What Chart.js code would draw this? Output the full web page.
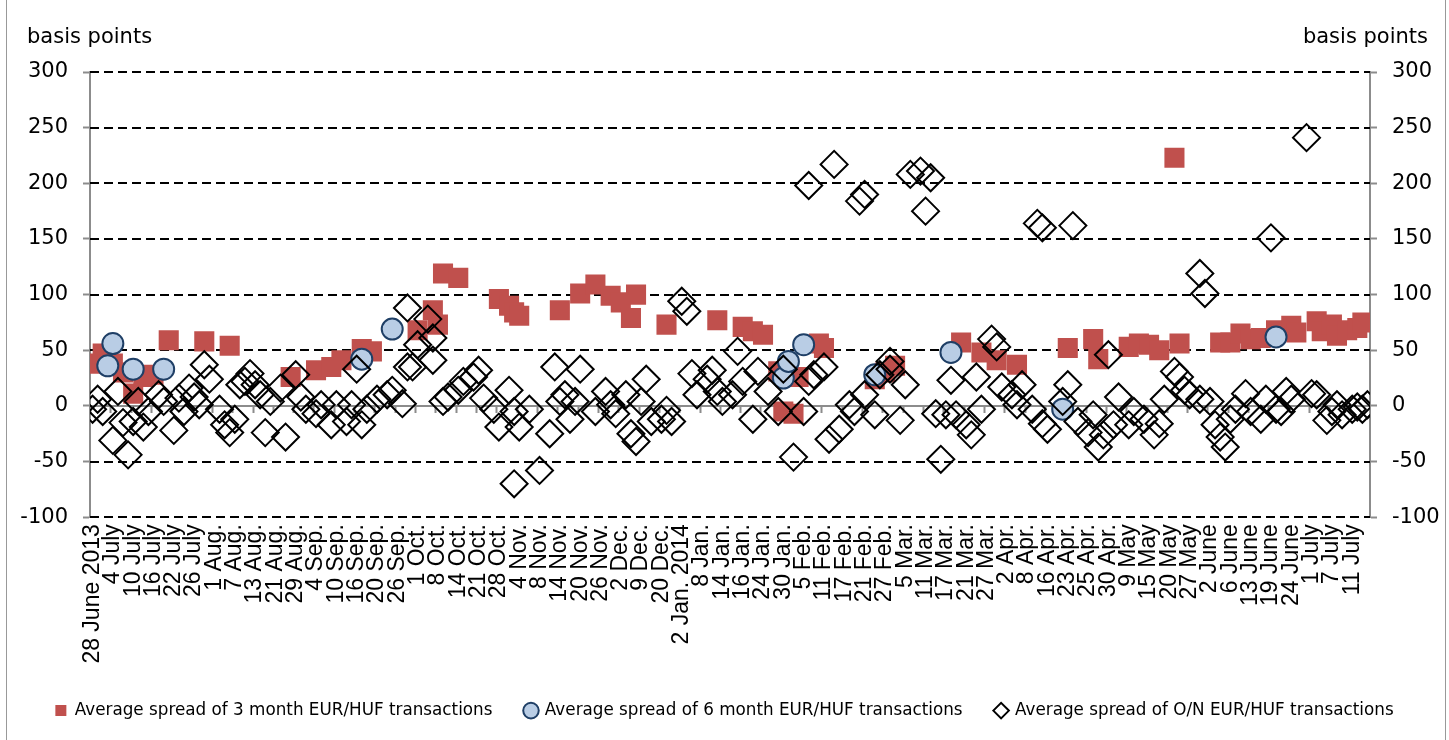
<!DOCTYPE html>
<html lang="en">
<head>
  <meta charset="UTF-8" />
  <title>EUR/HUF transaction spreads</title>
  <script src="https://cdn.jsdelivr.net/npm/chart.js"></script>
  <style>
    body { margin: 0; background: #fff; }
    #wrap { position: relative; width: 1449px; height: 740px; }
    #frame { position: absolute; left: 6px; top: 0; width: 1440px; height: 740px;
             border-left: 1px solid #999; border-right: 1px solid #999; box-sizing: border-box; }
    canvas { position: absolute; left: 0; top: 0; }
    .unit { position: absolute; top: 24px; font: 21px 'DejaVu Sans', sans-serif; color: #000; }
  </style>
</head>
<body>
  <div id="wrap">
    <div id="frame"></div>
    <canvas id="spreadChart" width="1449" height="740"></canvas>
    <div class="unit" style="left:27px">basis points</div>
    <div class="unit" style="right:21px">basis points</div>
  </div>

  <script>
    // one label every 4th business day (index 0 = 28 June 2013)
    const tickLabels = ['28 June 2013', '4 July', '10 July', '16 July', '22 July', '26 July',
      '1 Aug.', '7 Aug.', '13 Aug.', '21 Aug.', '29 Aug.', '4 Sep.', '10 Sep.', '16 Sep.', '20 Sep.', '26 Sep.',
      '1 Oct.', '8 Oct.', '14 Oct.', '21 Oct.', '28 Oct.', '4 Nov.', '8 Nov.', '14 Nov.', '20 Nov.', '26 Nov.',
      '2 Dec.', '9 Dec.', '20 Dec.', '2 Jan. 2014', '8 Jan.', '14 Jan.', '16 Jan.', '24 Jan.', '30 Jan.',
      '5 Feb.', '11 Feb.', '17 Feb.', '21 Feb.', '27 Feb.', '5 Mar.', '11 Mar.', '17 Mar.', '21 Mar.', '27 Mar.',
      '2 Apr.', '8 Apr.', '16 Apr.', '23 Apr.', '25 Apr.', '30 Apr.', '9 May', '15 May', '20 May', '27 May',
      '2 June', '6 June', '13 June', '19 June', '24 June', '1 July', '7 July', '11 July'];
    const dayCount = 252;

    // 3 month
    const m3Day = [0, 2, 4, 6, 8, 10, 12, 15, 22, 27, 39, 44, 47, 49, 53, 55,
      64, 67, 68, 69, 72, 80, 82, 83, 84, 92, 96, 99, 102, 104, 106, 107, 113, 123,
      128, 130, 132, 135, 136, 138, 139, 143, 144, 154, 156, 158,
      171, 175, 178, 182, 192, 197, 198, 204, 206, 208, 210, 213, 214,
      222, 224, 226, 228, 230, 233, 236, 237, 241, 242, 244, 245, 247, 249, 250];
    const m3Spread = [38, 47, 38, 30, 11, 26, 28, 59, 58, 54, 26, 32, 35, 41, 51, 49,
      68, 86, 73, 119, 115, 96, 90, 84, 81, 86, 101, 109, 99, 93, 79, 100, 73, 77,
      71, 67, 64, 31, -5, -7, 26, 56, 52, 24, 30, 36,
      57, 48, 41, 37, 52, 60, 42, 53, 56, 55, 50, 223, 56,
      57, 57, 65, 60, 61, 68, 72, 66, 76, 67, 73, 63, 68, 70, 75];

    // 6 month
    const m6Day = [3, 4, 8, 14, 53, 59, 136, 137, 140, 154, 169, 191, 233];
    const m6Spread = [36, 56, 33, 33, 42, 69, 25, 40, 55, 28, 48, -3, 62];

    // overnight
    const onDay = [0, 1, 2, 4, 5, 6, 7, 8, 9, 10, 11, 13, 14, 16, 17, 18, 19, 20, 21, 22, 23, 25, 26, 27, 28,
      29, 30, 31, 32, 33, 34, 35, 37, 38, 40, 41, 42, 44, 45, 47, 48, 50, 51, 52, 53, 54, 56, 58, 59, 61, 62, 62,
      63, 64, 66, 67, 67, 69, 70, 72, 73, 75, 76, 77, 79, 80, 82, 83, 83, 84, 86, 88, 90, 91, 92, 93, 94, 95, 96,
      99, 101, 102, 103, 105, 106, 107, 108, 109, 110, 112, 113, 114, 116, 117, 118, 119, 121, 122, 123, 124,
      126, 127, 128, 130, 131, 133, 135, 136, 138, 140, 141, 141, 142, 144, 145, 146, 147, 149, 150, 151, 152, 152,
      154, 155, 157, 157, 159, 160, 161, 163, 164, 165, 166, 167, 168, 169, 170, 172, 173, 174, 175, 177, 178, 179,
      181, 182, 183, 185, 186, 187, 187,
      188, 191, 192, 193, 194, 196, 197, 198, 199, 200, 201, 202, 204, 205, 207, 209, 210, 211, 213, 214, 215, 216,
      218, 218, 219, 220, 221, 222, 223, 224, 225, 227, 228, 230, 231, 232, 233, 234, 235, 236, 239, 240, 241, 243,
      244, 245, 246, 248, 249, 250, 251];
    const onSpread = [-3, 6, -5, -31, 13, -15, -44, -14, 4, -19, -5, 10, 4, -22, 7, -5, 16, 8, 1, 37, 24, -3, -17, -24, -12,
      19, 22, 29, 19, 10, -24, 4, 16, -28, 28, 8, -3, -7, 1, -17, 1, -14, 1, 33, -17, -3, 6, 10, 14, 2, 35, 88,
      35, 55, 78, 61, 41, 4, 8, 14, 22, 26, 32, 7, -3, -19, 14, -5, -70, -19, -3, -58, -25, 35, 4, 10, -12, 4, 33,
      -5, 13, 1, -7, 10, -25, -32, 4, 24, -14, -12, -4, -14, 94, 85, 29, 10, 24, 32, 13, 4,
      10, 49, 22, -12, 31, 13, -5, 33, -46, -5, 198, 22, 28, 35, -30, 217, -21, 1, -5, 184, 190, 10,
      -8, 28, 40, 33, -13, 19, 208, 211, 175, 205, -7, -48, -8, 23, -8, -17, -26, 26, -3, 60, 53, 17,
      10, 1, 19, -3, 164, 160, -16,
      -21, 4, 19, 162, -14, -24, -8, -37, -26, 46, -17, 8, -17, -5, -12, -26, -16, 6, 31, 26, 14, 10,
      6, 119, 101, 4, -17, -28, -37, -12, -3, 11, -5, -12, 6, 151, -3, -5, 13, 6, 241, 11, 10, -13,
      -5, 1, -8, -3, -1, -3, 1];

    const pts = (days, vals) => days.map((d, i) => ({ x: d, y: vals[i] }));

    // dashed black gridlines, and a solid gray zero line with small tick marks between labels
    const gridLines = {
      id: 'gridLines',
      beforeDatasetsDraw(chart) {
        const { ctx, chartArea: { left, right }, scales: { x, y } } = chart;
        ctx.save();
        ctx.strokeStyle = '#000';
        ctx.lineWidth = 2;
        ctx.setLineDash([9, 5]);
        ctx.beginPath();
        y.ticks.forEach(t => {
          if (t.value === 0) return;
          const py = Math.round(y.getPixelForValue(t.value));
          ctx.moveTo(left, py);
          ctx.lineTo(right, py);
        });
        ctx.stroke();

        const y0 = Math.round(y.getPixelForValue(0));
        ctx.setLineDash([]);
        ctx.strokeStyle = '#8c8c8c';
        ctx.beginPath();
        ctx.moveTo(left, y0);
        ctx.lineTo(right, y0);
        x.ticks.forEach(t => {
          const px = Math.round(x.getPixelForValue(t.value - 0.5)) + 0.5;
          ctx.moveTo(px, y0);
          ctx.lineTo(px, y0 + 7);
        });
        ctx.stroke();
        ctx.restore();
      }
    };

    const tickFont = { family: 'DejaVu Sans', size: 21 };

    new Chart(document.getElementById('spreadChart'), {
      type: 'scatter',
      data: {
        datasets: [
          {
            label: 'Average spread of O/N EUR/HUF transactions',
            data: pts(onDay, onSpread),
            pointStyle: 'rectRot',
            pointRadius: 13.5,
            backgroundColor: 'rgba(255,255,255,0)',
            borderColor: '#000',
            borderWidth: 2,
            pointBorderWidth: 2
          },
          {
            label: 'Average spread of 6 month EUR/HUF transactions',
            data: pts(m6Day, m6Spread),
            pointStyle: 'circle',
            pointRadius: 10.5,
            backgroundColor: '#B9CDE5',
            borderColor: '#1F3F66',
            borderWidth: 2,
            pointBorderWidth: 2
          },
          {
            label: 'Average spread of 3 month EUR/HUF transactions',
            data: pts(m3Day, m3Spread),
            pointStyle: 'rect',
            pointRadius: 14.2,
            backgroundColor: '#C0504D',
            borderColor: '#C0504D',
            borderWidth: 0,
            pointBorderWidth: 0
          }
        ]
      },
      options: {
        responsive: false,
        animation: false,
        layout: { padding: { top: 72, left: 0, right: 0, bottom: 11 } },
        plugins: {
          tooltip: { enabled: false },
          legend: {
            position: 'bottom',
            reverse: true,
            labels: {
              usePointStyle: true,
              boxWidth: 11,
              boxHeight: 11,
              padding: 33,
              color: '#000',
              font: { family: 'DejaVu Sans', size: 16.8 }
            }
          }
        },
        scales: {
          x: {
            type: 'linear',
            min: -0.5,
            max: dayCount - 0.5,
            afterBuildTicks: s => { s.ticks = tickLabels.map((_, i) => ({ value: i * 4 })); },
            afterFit: s => { s.height = 152; },
            ticks: {
              autoSkip: false,
              minRotation: 90,
              maxRotation: 90,
              padding: 7,
              color: '#000',
              font: { family: 'Liberation Sans', size: 23 },
              callback: v => tickLabels[v / 4]
            },
            grid: { display: false, drawTicks: false },
            border: { display: false }
          },
          y: {
            position: 'left',
            min: -100,
            max: 300,
            afterFit: s => { s.width = 90; },
            ticks: { stepSize: 50, padding: 15, color: '#000', font: tickFont },
            grid: {
              color: 'rgba(0,0,0,0)',
              tickColor: '#8c8c8c',
              tickLength: 7,
              tickWidth: 2
            },
            border: { color: '#8c8c8c', width: 2 }
          },
          y2: {
            position: 'right',
            min: -100,
            max: 300,
            afterFit: s => { s.width = 79; },
            ticks: { stepSize: 50, padding: 15, color: '#000', font: tickFont },
            grid: { drawOnChartArea: false, tickColor: '#8c8c8c', tickLength: 7, tickWidth: 2 },
            border: { color: '#8c8c8c', width: 2 }
          }
        }
      },
      plugins: [gridLines]
    });
  </script>
</body>
</html>
